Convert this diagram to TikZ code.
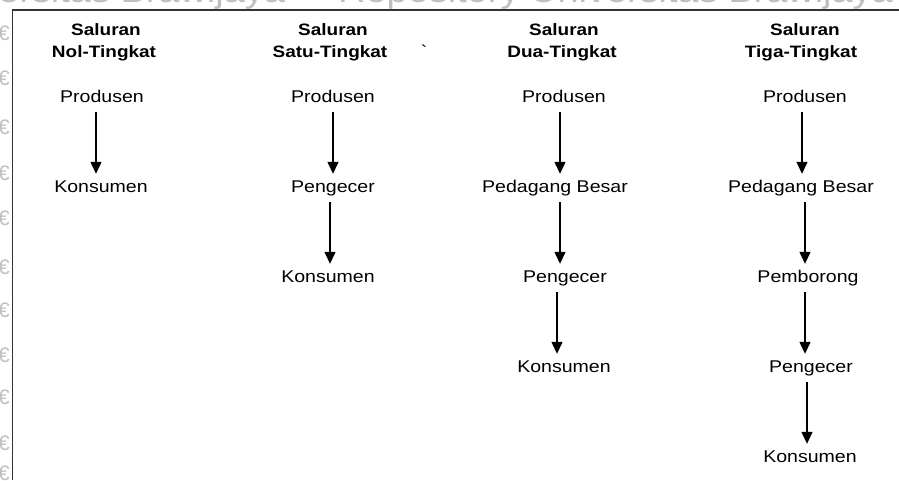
\documentclass[tikz,border=0pt]{standalone}
\usepackage{fontspec}
\setmainfont{Liberation Sans}
\usetikzlibrary{arrows.meta}

\tikzset{
  item/.style={anchor=base, inner sep=0pt, xscale=1.15, text height=12.5pt, text depth=3.5pt,
               font=\fontsize{17}{20}\selectfont},
  head/.style={anchor=base, inner sep=0pt, xscale=1.15,
               font=\bfseries\fontsize{16.5}{20}\selectfont},
  flow/.style={draw=black, line width=1.3pt, -{Triangle[length=12pt,width=11pt]},
               shorten <=6.5pt, shorten >=5.5pt},
  frameline/.style={draw=black!80, line width=1.5pt},
  stamptext/.style={anchor=base west, inner sep=0pt, xscale=1.15, text=black!25,
               font=\fontsize{33}{33}\selectfont},
  sidestamp/.style={inner sep=0pt, text=black!25, font=\fontsize{21}{21}\selectfont}
}

\begin{document}
\begin{tikzpicture}[x=1pt, y=-1pt]
\useasboundingbox (0,0) rectangle (899,480);
\begin{scope}
\clip (0,0) rectangle (899,480);

% faint page stamp behind the panel
\node[stamptext] (wm1) at (-2,2) {ersitas Brawijaya};
\node[stamptext] (wm2) at (338,2) {Repository Universitas Brawijaya};
\foreach \yy [count=\i] in {33,78,127,173,218,267,310,355,397,443,473}
  \node[sidestamp] (side\i) at (4,\yy) {€};

% white panel with its frame
\fill[white] (12.5,10) rectangle (899,480);
\draw[frameline] (899,10) -- (12.5,10) -- (12.5,480);

% column headings
\node[head] (h0a) at (106,35) {Saluran};
\node[head] (h0b) at (104,57) {Nol-Tingkat};
\node[head] (h1a) at (333,35) {Saluran};
\node[head] (h1b) at (330,57) {Satu-Tingkat};
\node[head] (h2a) at (564,35) {Saluran};
\node[head] (h2b) at (562,57) {Dua-Tingkat};
\node[head] (h3a) at (805,35) {Saluran};
\node[head] (h3b) at (801,57) {Tiga-Tingkat};
\node[head, font=\fontsize{17}{20}\selectfont] (tick) at (424,57) {\textasciigrave};

% zero-level channel
\node[item] (c0p) at (102,102) {Produsen};
\node[item] (c0k) at (101,192) {Konsumen};

% one-level channel
\node[item] (c1p) at (333,102) {Produsen};
\node[item] (c1r) at (333,192) {Pengecer};
\node[item] (c1k) at (328,282) {Konsumen};

% two-level channel
\node[item] (c2p) at (564,102) {Produsen};
\node[item] (c2b) at (555,192) {Pedagang Besar};
\node[item] (c2r) at (565,282) {Pengecer};
\node[item] (c2k) at (564,372) {Konsumen};

% three-level channel
\node[item] (c3p) at (805,102) {Produsen};
\node[item] (c3b) at (801,192) {Pedagang Besar};
\node[item] (c3m) at (808,282) {Pemborong};
\node[item] (c3r) at (811,372) {Pengecer};
\node[item] (c3k) at (810,462) {Konsumen};

% flows
\draw[flow] ([xshift=-6pt]c0p.south) -- ([xshift=-6pt]c0p.south |- c0k.north);

\draw[flow] (c1p.south) -- (c1p.south |- c1r.north);
\draw[flow] ([xshift=-3pt]c1r.south) -- ([xshift=-3pt]c1r.south |- c1k.north);

\draw[flow] ([xshift=-4pt]c2p.south) -- ([xshift=-4pt]c2p.south |- c2b.north);
\draw[flow] ([xshift=5pt]c2b.south) -- ([xshift=5pt]c2b.south |- c2r.north);
\draw[flow] ([xshift=-8pt]c2r.south) -- ([xshift=-8pt]c2r.south |- c2k.north);

\draw[flow] ([xshift=-3pt]c3p.south) -- ([xshift=-3pt]c3p.south |- c3b.north);
\draw[flow] ([xshift=4pt]c3b.south) -- ([xshift=4pt]c3b.south |- c3m.north);
\draw[flow] ([xshift=-3pt]c3m.south) -- ([xshift=-3pt]c3m.south |- c3r.north);
\draw[flow] ([xshift=-4pt]c3r.south) -- ([xshift=-4pt]c3r.south |- c3k.north);
\end{scope}
\end{tikzpicture}
\end{document}
